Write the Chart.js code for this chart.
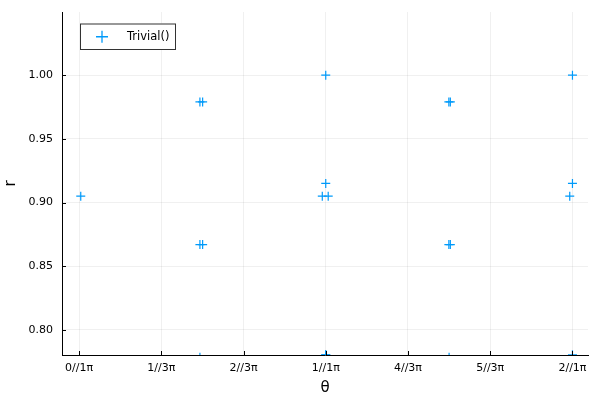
<!DOCTYPE html>
<html>
<head>
<meta charset="utf-8">
<script src="https://cdn.jsdelivr.net/npm/chart.js@4"></script>
<style>
  html, body { margin: 0; padding: 0; background: #fff; }
  #wrap { width: 600px; height: 400px; }
</style>
</head>
<body>
<div id="wrap"><canvas id="myChart"></canvas></div>
<script>
// θ values are in units of π
const thetaValues = [0.007, 0.490, 0.501, 0.490, 0.501, 0.986, 1.0, 1.010, 1.0, 1.0, 1.0,
                     1.499, 1.505, 1.499, 1.505, 1.989, 2.0, 2.0, 2.0, 0.49, 1.50];
const rValues = [0.905, 0.979, 0.979, 0.867, 0.867, 0.905, 0.915, 0.905, 1.0, 0.7805, 0.7805,
                 0.979, 0.979, 0.867, 0.867, 0.905, 0.915, 1.0, 0.7805, 0.7785, 0.7785];
const xTickValues = [0, 1/3, 2/3, 1, 4/3, 5/3, 2];
const xTickLabels = ['0//1π', '1//3π', '2//3π', '1//1π', '4//3π', '5//3π', '2//1π'];
const yTickValues = [0.80, 0.85, 0.90, 0.95, 1.00];
const seriesName = 'Trivial()';

const blue = '#009AFA';
const points = thetaValues.map((t, i) => ({ x: t, y: rValues[i] }));

// inward tick marks and a boxed legend, Plots.jl style
const decor = {
    id: 'decor',
    afterDraw(chart) {
        const ctx = chart.ctx;
        const a = chart.chartArea;
        const xs = chart.scales.x, ys = chart.scales.y;
        ctx.save();
        ctx.strokeStyle = '#000';
        ctx.lineWidth = 1;
        ctx.beginPath();
        xTickValues.forEach(v => {
            const px = Math.round(xs.getPixelForValue(v)) + 0.5;
            ctx.moveTo(px, a.bottom);
            ctx.lineTo(px, a.bottom - 4);
        });
        yTickValues.forEach(v => {
            const py = Math.round(ys.getPixelForValue(v)) + 0.5;
            ctx.moveTo(a.left, py);
            ctx.lineTo(a.left + 4, py);
        });
        ctx.stroke();

        // legend
        const lx = 80, ly = 23.5, lw = 95, lh = 25.5;
        ctx.fillStyle = '#fff';
        ctx.fillRect(lx, ly, lw, lh);
        ctx.strokeStyle = '#333';
        ctx.strokeRect(lx + 0.5, ly + 0.5, lw, lh);
        const cx = 102, cy = ly + lh / 2 + 0.5;
        ctx.strokeStyle = blue;
        ctx.lineWidth = 1.3;
        ctx.beginPath();
        ctx.moveTo(cx - 6, cy); ctx.lineTo(cx + 6, cy);
        ctx.moveTo(cx, cy - 6); ctx.lineTo(cx, cy + 6);
        ctx.stroke();
        ctx.fillStyle = '#000';
        ctx.font = '11.5px "DejaVu Sans", sans-serif';
        ctx.textBaseline = 'middle';
        ctx.fillText(seriesName, 127, cy);
        ctx.restore();
    }
};

new Chart(document.getElementById('myChart'), {
    type: 'scatter',
    data: {
        datasets: [{
            label: seriesName,
            data: points,
            pointStyle: 'cross',
            pointRadius: 4.5,
            pointBorderWidth: 1.2,
            borderColor: blue,
            backgroundColor: blue,
            clip: 0
        }]
    },
    options: {
        responsive: true,
        maintainAspectRatio: false,
        animation: false,
        layout: { padding: { top: 12, right: 12, left: 0, bottom: 0 } },
        plugins: {
            legend: { display: false },
            tooltip: { enabled: false }
        },
        scales: {
            x: {
                type: 'linear',
                min: -0.069,
                max: 2.063,
                afterFit: s => { s.height = 45; s.paddingLeft = 0; s.paddingRight = 0; },
                afterBuildTicks: s => { s.ticks = xTickValues.map(v => ({ value: v })); },
                grid: { color: 'rgba(0,0,0,0.06)', drawTicks: false },
                border: { color: '#000', width: 1 },
                ticks: {
                    padding: 7,
                    color: '#000',
                    font: { family: '"DejaVu Sans", sans-serif', size: 11 },
                    callback: (v, i) => xTickLabels[i]
                },
                title: {
                    display: true,
                    text: 'θ',
                    color: '#000',
                    font: { family: '"DejaVu Sans", sans-serif', size: 15 },
                    padding: { top: 0, bottom: 3 }
                }
            },
            y: {
                min: 0.7803,
                max: 1.0496,
                afterFit: s => { s.width = 62; s.paddingTop = 0; s.paddingBottom = 0; },
                afterBuildTicks: s => { s.ticks = yTickValues.map(v => ({ value: v })); },
                grid: { color: 'rgba(0,0,0,0.06)', drawTicks: false },
                border: { color: '#000', width: 1 },
                ticks: {
                    padding: 9,
                    color: '#000',
                    font: { family: '"DejaVu Sans", sans-serif', size: 11 },
                    callback: v => v.toFixed(2)
                },
                title: {
                    display: true,
                    text: 'r',
                    color: '#000',
                    font: { family: '"DejaVu Sans", sans-serif', size: 15 },
                    padding: { top: 2, bottom: 0 }
                }
            }
        }
    },
    plugins: [decor]
});
</script>
</body>
</html>
